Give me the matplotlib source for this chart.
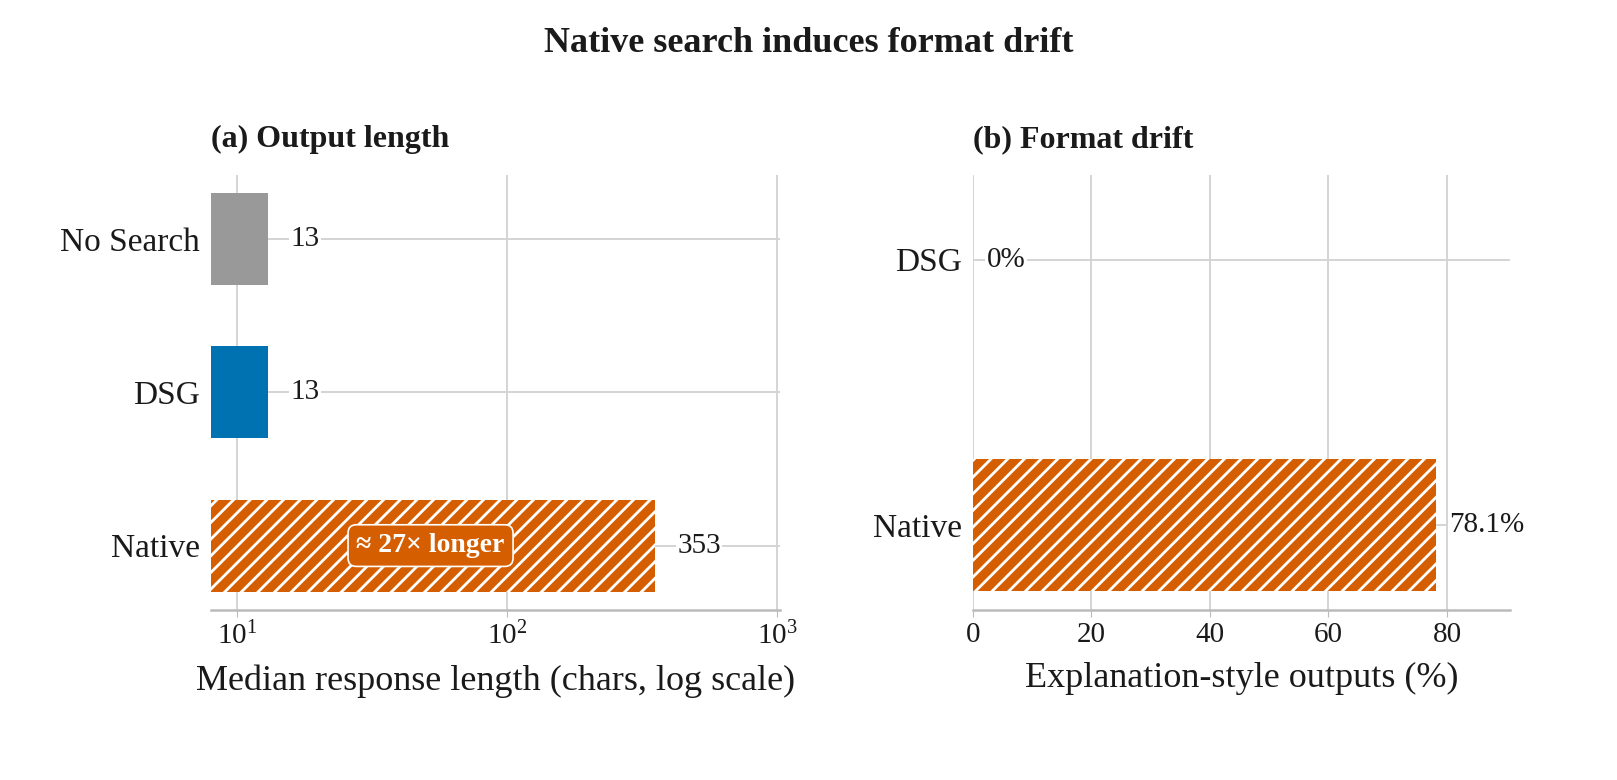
import matplotlib
matplotlib.use("Agg")
import matplotlib.pyplot as plt
from matplotlib.ticker import NullLocator

plt.rcParams['font.family'] = ['Liberation Serif', 'DejaVu Serif']
plt.rcParams['hatch.color'] = 'white'
plt.rcParams['hatch.linewidth'] = 2.0

len_cats = ["No Search", "DSG", "Native"]
len_vals = [13, 13, 353]
len_colors = ["#999999", "#0072B2", "#D55E00"]
drift_cats = ["DSG", "Native"]
drift_vals = [0.0, 78.1]

fig = plt.figure(figsize=(16.17, 7.8), dpi=100)
ax1 = fig.add_axes([0.1305, 0.218, 0.352, 0.558])
ax2 = fig.add_axes([0.6017, 0.218, 0.332, 0.558])

grid = "#d4d4d4"
txt = "#1a1a1a"
for ax in (ax1, ax2):
    for s in ("top", "right", "left"):
        ax.spines[s].set_visible(False)
    ax.spines["bottom"].set_color("#bbbbbb")
    ax.spines["bottom"].set_linewidth(1.8)
    ax.tick_params(axis="x", colors="#bbbbbb", labelcolor=txt, labelsize=21, length=5)
    ax.tick_params(axis="y", length=0, labelsize=24, labelcolor=txt, pad=8)
    ax.set_axisbelow(True)
    ax.grid(True, color=grid, linewidth=1.4)

# (a)
y1 = list(range(len(len_cats)))
left = 8.0
for yi, v, c in zip(y1, len_vals, len_colors):
    hatch = "//" if c == "#D55E00" else None
    ax1.barh(yi, v - left, left=left, height=0.6, color=c,
             edgecolor="white" if hatch else "none", hatch=hatch, linewidth=0)
    ax1.annotate(str(v), (v, yi), xytext=(16, 0), textcoords="offset points",
                 va="center", ha="left", fontsize=21, color=txt,
                 bbox=dict(fc="white", ec="none", pad=1))
ax1.set_xscale("log")
ax1.set_xlim(8.0, 1025)
ax1.xaxis.set_minor_locator(NullLocator())
ax1.set_ylim(2.42, -0.42)
ax1.set_yticks(y1)
ax1.set_yticklabels(len_cats)
ax1.set_xlabel("Median response length (chars, log scale)", fontsize=26, color=txt, labelpad=10)
ax1.set_title("(a) Output length", loc="left", fontsize=23, fontweight="bold", pad=20, color=txt)
ax1.text(52, 2, "≈ 27× longer", ha="center", va="center", fontsize=20, fontweight="bold",
         color="white", bbox=dict(boxstyle="round,pad=0.3", fc="#D55E00", ec="white", lw=1.2))

# (b)
y2 = list(range(len(drift_cats)))
ax2.barh(y2, drift_vals, height=0.5, color="#D55E00", edgecolor="white", hatch="//", linewidth=0)
for yi, v in zip(y2, drift_vals):
    lab = f"{v:.0f}%" if v == 0 else f"{v:.1f}%"
    ax2.annotate(lab, (v, yi), xytext=(10, 0), textcoords="offset points",
                 va="center", ha="left", fontsize=21, color=txt,
                 bbox=dict(fc="white", ec="none", pad=1))
ax2.set_xlim(0, 90.6)
ax2.set_xticks([0, 20, 40, 60, 80])
ax2.set_ylim(1.32, -0.32)
ax2.set_yticks(y2)
ax2.set_yticklabels(drift_cats)
ax2.set_xlabel("Explanation-style outputs (%)", fontsize=26, color=txt, labelpad=10)
ax2.set_title("(b) Format drift", loc="left", fontsize=23, fontweight="bold", pad=20, color=txt)

fig.suptitle("Native search induces format drift", fontsize=26, fontweight="bold", y=0.965, color=txt)
fig.savefig("out.png", dpi=100)
